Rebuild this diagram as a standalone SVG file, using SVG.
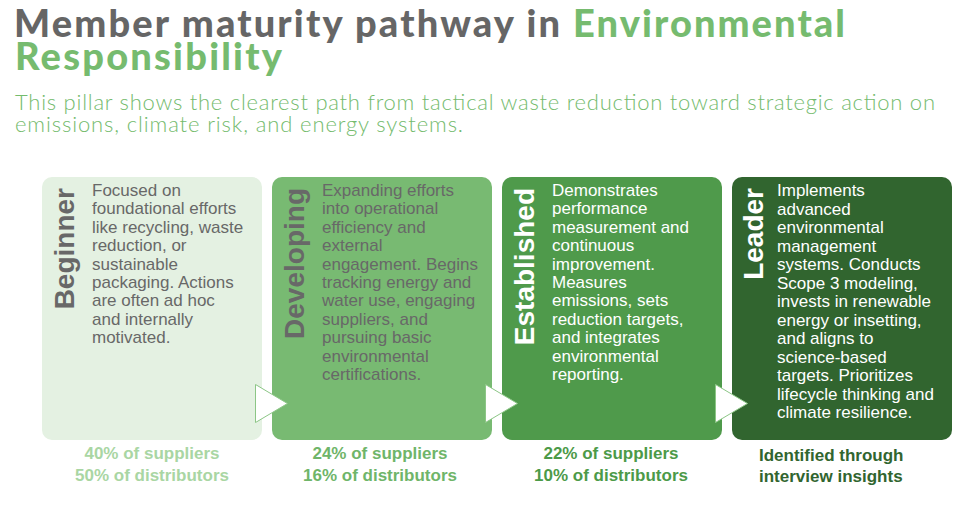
<svg xmlns="http://www.w3.org/2000/svg" width="975" height="506" viewBox="0 0 975 506">
<style>
.title{font-family:Lato,"Liberation Sans",sans-serif;font-weight:900;font-size:38px}
.sub{font-family:Lato,"Liberation Sans",sans-serif;font-weight:300;font-size:22px;fill:#74bb6d}
.stage{font-family:"Liberation Sans",Arial,sans-serif;font-weight:700;font-size:28px}
.body{font-family:"Liberation Sans",Arial,sans-serif;font-size:17px}
.lab{font-family:"Liberation Sans",Arial,sans-serif;font-weight:700;font-size:17px;text-anchor:middle}
.gray{fill:#686868}
.white{fill:#ffffff}
.arrow{fill:#ffffff;stroke:#8cc686;stroke-width:1}
</style>
<rect width="975" height="506" fill="#ffffff"/>
<g id="title">
<text class="title" x="14" y="37" fill="#666666" textLength="546" lengthAdjust="spacing">Member maturity pathway in</text>
<text class="title" x="573" y="37" fill="#76bb6f" textLength="272" lengthAdjust="spacing">Environmental</text>
<text class="title" x="15" y="70" fill="#76bb6f" textLength="267" lengthAdjust="spacing">Responsibility</text>
<text class="sub" x="15" y="110" textLength="920" lengthAdjust="spacing">This pillar shows the clearest path from tactical waste reduction toward strategic action on</text>
<text class="sub" x="15" y="131.5" textLength="448" lengthAdjust="spacing">emissions, climate risk, and energy systems.</text>
</g>
<g id="beginner">
<rect x="42" y="177" width="220" height="263" rx="10" fill="#e4f1e2"/>
<text class="stage gray" transform="translate(74,188) rotate(-90)" text-anchor="end">Beginner</text>
<text class="body gray" x="92" y="196"><tspan x="92">Focused on</tspan><tspan x="92" dy="18.4">foundational efforts</tspan><tspan x="92" dy="18.4">like recycling, waste</tspan><tspan x="92" dy="18.4">reduction, or</tspan><tspan x="92" dy="18.4">sustainable</tspan><tspan x="92" dy="18.4">packaging. Actions</tspan><tspan x="92" dy="18.4">are often ad hoc</tspan><tspan x="92" dy="18.4">and internally</tspan><tspan x="92" dy="18.4">motivated.</tspan></text>
<text class="lab" x="152" y="459" fill="#a9d6a3">40% of suppliers</text>
<text class="lab" x="152" y="481" fill="#a9d6a3">50% of distributors</text>
</g>
<g id="developing">
<rect x="272" y="177" width="220" height="263" rx="10" fill="#78ba72"/>
<text class="stage gray" transform="translate(304,188) rotate(-90)" text-anchor="end">Developing</text>
<text class="body gray" x="322" y="196"><tspan x="322">Expanding efforts</tspan><tspan x="322" dy="18.4">into operational</tspan><tspan x="322" dy="18.4">efficiency and</tspan><tspan x="322" dy="18.4">external</tspan><tspan x="322" dy="18.4">engagement. Begins</tspan><tspan x="322" dy="18.4">tracking energy and</tspan><tspan x="322" dy="18.4">water use, engaging</tspan><tspan x="322" dy="18.4">suppliers, and</tspan><tspan x="322" dy="18.4">pursuing basic</tspan><tspan x="322" dy="18.4">environmental</tspan><tspan x="322" dy="18.4">certifications.</tspan></text>
<text class="lab" x="380" y="459" fill="#6fb569">24% of suppliers</text>
<text class="lab" x="380" y="481" fill="#6fb569">16% of distributors</text>
</g>
<g id="established">
<rect x="502" y="177" width="220" height="263" rx="10" fill="#4f9a4b"/>
<text class="stage white" transform="translate(534,188) rotate(-90)" text-anchor="end">Established</text>
<text class="body white" x="552" y="196"><tspan x="552">Demonstrates</tspan><tspan x="552" dy="18.4">performance</tspan><tspan x="552" dy="18.4">measurement and</tspan><tspan x="552" dy="18.4">continuous</tspan><tspan x="552" dy="18.4">improvement.</tspan><tspan x="552" dy="18.4">Measures</tspan><tspan x="552" dy="18.4">emissions, sets</tspan><tspan x="552" dy="18.4">reduction targets,</tspan><tspan x="552" dy="18.4">and integrates</tspan><tspan x="552" dy="18.4">environmental</tspan><tspan x="552" dy="18.4">reporting.</tspan></text>
<text class="lab" x="611" y="459" fill="#4c9a48">22% of suppliers</text>
<text class="lab" x="611" y="481" fill="#4c9a48">10% of distributors</text>
</g>
<g id="leader">
<rect x="732" y="177" width="220" height="263" rx="10" fill="#31652f"/>
<text class="stage white" transform="translate(763,188) rotate(-90)" text-anchor="end">Leader</text>
<text class="body white" x="777" y="196"><tspan x="777">Implements</tspan><tspan x="777" dy="18.5">advanced</tspan><tspan x="777" dy="18.5">environmental</tspan><tspan x="777" dy="18.5">management</tspan><tspan x="777" dy="18.5">systems. Conducts</tspan><tspan x="777" dy="18.5">Scope 3 modeling,</tspan><tspan x="777" dy="18.5">invests in renewable</tspan><tspan x="777" dy="18.5">energy or insetting,</tspan><tspan x="777" dy="18.5">and aligns to</tspan><tspan x="777" dy="18.5">science-based</tspan><tspan x="777" dy="18.5">targets. Prioritizes</tspan><tspan x="777" dy="18.5">lifecycle thinking and</tspan><tspan x="777" dy="18.5">climate resilience.</tspan></text>
<text class="lab" x="759" y="461" fill="#31652f" style="text-anchor:start">Identified through</text>
<text class="lab" x="759" y="482" fill="#31652f" style="text-anchor:start">interview insights</text>
</g>
<g id="connectors">
<polygon class="arrow" points="255.5,384.5 287.5,403.5 255.5,422.5"/>
<polygon class="arrow" points="485.5,384.5 517.5,403.5 485.5,422.5"/>
<polygon class="arrow" points="715.5,384.5 747.5,403.5 715.5,422.5"/>
</g>
</svg>
